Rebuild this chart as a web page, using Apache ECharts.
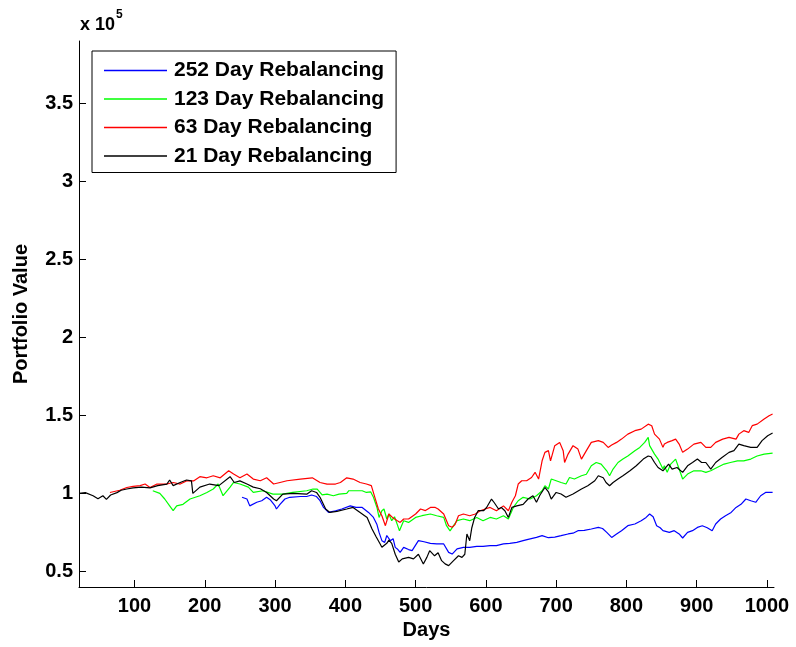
<!DOCTYPE html>
<html>
<head>
<meta charset="utf-8">
<title>Portfolio Value by Rebalancing Period</title>
<script src="https://cdn.jsdelivr.net/npm/echarts@6/dist/echarts.min.js"></script>
<style>
  html, body { margin: 0; padding: 0; background: #fff; }
  #chart { width: 796px; height: 647px; }
</style>
</head>
<body>
<div id="chart"></div>
<script>
// Portfolio value (units of 10^5) against trading day, one series per rebalancing period.
// Each series starts once its first rebalancing period has elapsed.

const xTicks = [100, 200, 300, 400, 500, 600, 700, 800, 900, 1000];
const yTicks = [0.5, 1, 1.5, 2, 2.5, 3, 3.5];

const seriesNames = ['252 Day Rebalancing', '123 Day Rebalancing', '63 Day Rebalancing', '21 Day Rebalancing'];
const seriesColors = ['#0000ff', '#00ff00', '#ff0000', '#000000'];

const rebal252 = [
  [253,0.975],[260,0.964],[264,0.92],[274,0.943],[281,0.953],[288,0.975],[293,0.96],[300,0.92],[302,0.90],
  [307,0.93],[314,0.964],[321,0.975],[336,0.98],[345,0.98],[352,0.99],[359,0.98],[364,0.953],[369,0.91],
  [376,0.878],[386,0.889],[395,0.90],[407,0.92],[415,0.91],[424,0.91],[433,0.878],[440,0.846],[445,0.80],
  [448,0.75],[452,0.697],[456,0.686],[459,0.73],[464,0.697],[468,0.71],[471,0.654],[474,0.644],[478,0.622],
  [483,0.654],[490,0.64],[495,0.633],[504,0.697],[512,0.69],[521,0.68],[530,0.676],[540,0.676],[547,0.622],
  [552,0.611],[559,0.644],[568,0.654],[577,0.654],[587,0.66],[596,0.66],[606,0.665],[615,0.665],[625,0.676],
  [634,0.68],[644,0.686],[653,0.697],[663,0.708],[672,0.718],[680,0.729],[689,0.716],[698,0.72],[707,0.729],
  [717,0.74],[724,0.745],[731,0.761],[740,0.763],[750,0.772],[760,0.782],[766,0.775],[772,0.75],[779,0.718],
  [786,0.74],[793,0.761],[802,0.793],[812,0.804],[821,0.825],[828,0.846],[833,0.868],[838,0.85],[843,0.793],
  [848,0.78],[852,0.761],[861,0.75],[868,0.761],[875,0.74],[880,0.714],[887,0.75],[894,0.761],[901,0.782],
  [908,0.793],[915,0.78],[922,0.761],[927,0.804],[934,0.836],[941,0.857],[949,0.878],[956,0.91],[963,0.93],
  [970,0.964],[977,0.953],[984,0.943],[991,0.985],[998,1.006],[1008,1.006]
];

const rebal123 = [
  [126,1.017],[136,1.0],[143,0.964],[150,0.92],[155,0.889],[160,0.92],[169,0.93],[179,0.964],[193,0.985],
  [203,1.006],[212,1.028],[219,1.06],[226,0.985],[236,1.04],[241,1.07],[250,1.06],[262,1.04],[269,1.006],
  [283,1.017],[297,0.995],[311,0.995],[325,1.006],[345,1.017],[354,1.028],[360,1.028],[367,0.99],[374,0.995],
  [383,0.985],[391,0.995],[402,1.0],[405,1.017],[416,1.017],[424,1.017],[430,1.006],[436,1.01],[440,0.975],
  [445,0.91],[448,0.846],[452,0.889],[455,0.90],[459,0.836],[462,0.868],[466,0.825],[470,0.85],[474,0.80],
  [477,0.76],[483,0.825],[490,0.814],[500,0.846],[509,0.857],[521,0.868],[530,0.857],[540,0.846],[544,0.793],
  [549,0.76],[554,0.793],[559,0.825],[568,0.836],[577,0.825],[587,0.846],[596,0.825],[606,0.846],[615,0.836],
  [625,0.857],[632,0.836],[639,0.91],[646,0.953],[653,0.975],[663,0.964],[672,0.985],[680,1.017],[684,1.049],
  [689,1.028],[693,1.092],[700,1.081],[707,1.07],[714,1.06],[719,1.102],[726,1.092],[736,1.113],[743,1.123],
  [750,1.177],[757,1.198],[764,1.188],[772,1.145],[776,1.113],[781,1.156],[788,1.198],[795,1.22],[802,1.24],
  [812,1.274],[819,1.295],[826,1.327],[831,1.359],[833,1.306],[840,1.252],[845,1.22],[852,1.156],[854,1.177],
  [858,1.135],[863,1.188],[870,1.22],[875,1.156],[880,1.092],[887,1.124],[896,1.145],[906,1.145],[913,1.135],
  [920,1.145],[929,1.166],[939,1.188],[948,1.198],[958,1.209],[967,1.209],[977,1.22],[986,1.24],[996,1.252],
  [1008,1.258]
];

const rebal63 = [
  [65,1.006],[79,1.02],[89,1.038],[98,1.045],[108,1.05],[115,1.06],[122,1.038],[132,1.06],[146,1.06],
  [155,1.07],[165,1.06],[174,1.08],[184,1.08],[193,1.107],[203,1.10],[212,1.113],[222,1.10],[234,1.145],
  [241,1.124],[250,1.10],[260,1.124],[269,1.092],[279,1.081],[288,1.10],[298,1.06],[307,1.07],[317,1.081],
  [336,1.092],[353,1.10],[364,1.07],[374,1.06],[386,1.06],[393,1.07],[402,1.10],[411,1.092],[421,1.07],
  [430,1.06],[437,1.05],[442,0.975],[447,0.90],[452,0.857],[457,0.793],[462,0.868],[467,0.846],[474,0.825],
  [478,0.814],[483,0.836],[490,0.836],[500,0.868],[507,0.90],[514,0.89],[521,0.91],[528,0.91],[532,0.90],
  [540,0.868],[547,0.793],[552,0.783],[556,0.80],[561,0.857],[568,0.868],[577,0.857],[585,0.868],[592,0.889],
  [599,0.90],[606,0.91],[615,0.889],[625,0.92],[632,0.889],[637,0.943],[642,0.985],[646,1.06],[651,1.081],
  [658,1.081],[665,1.102],[670,1.135],[675,1.092],[680,1.209],[684,1.263],[689,1.274],[692,1.209],[698,1.306],
  [705,1.327],[710,1.274],[712,1.198],[717,1.252],[724,1.306],[731,1.284],[736,1.22],[743,1.274],[750,1.327],
  [760,1.338],[767,1.327],[774,1.295],[779,1.31],[786,1.327],[793,1.348],[802,1.38],[812,1.402],[821,1.412],
  [831,1.444],[836,1.434],[840,1.38],[847,1.348],[852,1.295],[854,1.316],[858,1.327],[865,1.338],[870,1.348],
  [875,1.316],[880,1.263],[887,1.284],[896,1.316],[906,1.327],[913,1.295],[920,1.295],[927,1.327],[937,1.348],
  [946,1.359],[956,1.348],[960,1.38],[967,1.402],[974,1.391],[979,1.434],[986,1.444],[996,1.477],[1003,1.498],
  [1008,1.509]
];

const rebal21 = [
  [21,1.00],[30,1.005],[41,0.985],[48,0.965],[55,0.985],[60,0.962],[66,0.99],[75,1.005],[81,1.02],[89,1.028],
  [98,1.035],[110,1.04],[122,1.035],[133,1.05],[146,1.06],[150,1.086],[155,1.05],[165,1.07],[174,1.086],
  [181,1.08],[183,1.00],[193,1.04],[207,1.06],[220,1.05],[236,1.107],[242,1.07],[250,1.08],[260,1.06],
  [269,1.04],[279,1.03],[288,1.006],[298,0.964],[302,0.953],[311,0.995],[326,1.0],[345,0.995],[352,1.017],
  [359,1.006],[364,0.975],[372,0.90],[378,0.878],[388,0.885],[402,0.90],[411,0.91],[421,0.878],[431,0.846],
  [438,0.772],[444,0.72],[449,0.68],[452,0.655],[459,0.68],[462,0.70],[466,0.68],[471,0.61],[476,0.56],
  [481,0.58],[490,0.59],[497,0.58],[504,0.61],[511,0.548],[516,0.59],[520,0.633],[527,0.60],[532,0.62],
  [537,0.569],[542,0.548],[547,0.537],[554,0.569],[561,0.60],[566,0.59],[570,0.61],[573,0.74],[577,0.697],
  [580,0.78],[584,0.846],[589,0.889],[597,0.889],[601,0.91],[608,0.964],[612,0.94],[618,0.90],[622,0.91],
  [627,0.889],[632,0.846],[637,0.91],[644,0.92],[653,0.93],[660,0.964],[667,0.985],[672,0.943],[677,0.99],
  [684,1.038],[689,1.01],[693,0.964],[700,1.006],[707,0.996],[714,0.975],[724,0.996],[736,1.028],[745,1.049],
  [755,1.081],[760,1.113],[767,1.10],[771,1.07],[776,1.049],[781,1.07],[788,1.092],[795,1.113],[805,1.145],
  [814,1.177],[824,1.22],[831,1.24],[835,1.235],[840,1.198],[845,1.166],[852,1.145],[860,1.188],[865,1.156],
  [872,1.166],[880,1.135],[887,1.177],[894,1.198],[901,1.22],[907,1.198],[913,1.198],[920,1.156],[927,1.198],
  [936,1.23],[946,1.263],[953,1.274],[960,1.316],[967,1.306],[977,1.295],[986,1.295],[993,1.338],[1001,1.37],
  [1008,1.387]
];

const seriesData = [rebal252, rebal123, rebal63, rebal21];

const FONT = '"Liberation Sans", Arial, Helvetica, sans-serif';

const chart = echarts.init(document.getElementById('chart'), null, { renderer: 'canvas' });

chart.setOption({
  animation: false,
  backgroundColor: '#ffffff',
  grid: { left: 79, right: 22, top: 41, bottom: 60, containLabel: false },
  graphic: [
    { type: 'text', left: 80, top: 16,
      style: { text: 'x 10', fontFamily: FONT, fontWeight: 'bold', fontSize: 18, fill: '#000' } },
    { type: 'text', left: 116, top: 9,
      style: { text: '5', fontFamily: FONT, fontWeight: 'bold', fontSize: 12, fill: '#000' } }
  ],
  legend: {
    orient: 'vertical',
    left: 92,
    top: 51,
    padding: [9, 12, 6, 12],
    itemGap: 7.5,
    itemWidth: 63,
    itemHeight: 1.5,
    icon: 'rect',
    backgroundColor: '#ffffff',
    borderColor: '#000000',
    borderWidth: 1,
    borderRadius: 0,
    selectedMode: false,
    data: seriesNames,
    textStyle: {
      fontFamily: FONT, fontWeight: 'bold', fontSize: 21, lineHeight: 21, color: '#000',
      padding: [0, 0, 0, 2]
    }
  },
  xAxis: {
    type: 'value',
    min: 21,
    max: 1010,
    name: 'Days',
    nameLocation: 'middle',
    nameGap: 32,
    nameTextStyle: { fontFamily: FONT, fontWeight: 'bold', fontSize: 20, color: '#000' },
    axisLine: { show: true, onZero: false, lineStyle: { color: '#000', width: 1 } },
    axisTick: { show: true, inside: true, length: 7, customValues: xTicks, lineStyle: { color: '#000', width: 1 } },
    axisLabel: {
      customValues: xTicks, margin: 9, fontFamily: FONT, fontWeight: 'bold', fontSize: 20, color: '#000',
      formatter: (v) => String(v)
    },
    splitLine: { show: false }
  },
  yAxis: {
    type: 'value',
    min: 0.4,
    max: 3.9,
    name: 'Portfolio Value',
    nameLocation: 'middle',
    nameRotate: 90,
    nameGap: 48,
    nameTextStyle: { fontFamily: FONT, fontWeight: 'bold', fontSize: 20, color: '#000' },
    axisLine: { show: true, onZero: false, lineStyle: { color: '#000', width: 1 } },
    axisTick: { show: true, inside: true, length: 7, customValues: yTicks, lineStyle: { color: '#000', width: 1 } },
    axisLabel: {
      customValues: yTicks, margin: 6, fontFamily: FONT, fontWeight: 'bold', fontSize: 20, color: '#000',
      formatter: (v) => String(v)
    },
    splitLine: { show: false }
  },
  series: seriesNames.map((name, i) => ({
    name: name,
    type: 'line',
    data: seriesData[i],
    showSymbol: false,
    symbol: 'none',
    color: seriesColors[i],
    itemStyle: { color: seriesColors[i] },
    lineStyle: { color: seriesColors[i], width: 1.2 },
    clip: true
  }))
});
</script>
</body>
</html>
